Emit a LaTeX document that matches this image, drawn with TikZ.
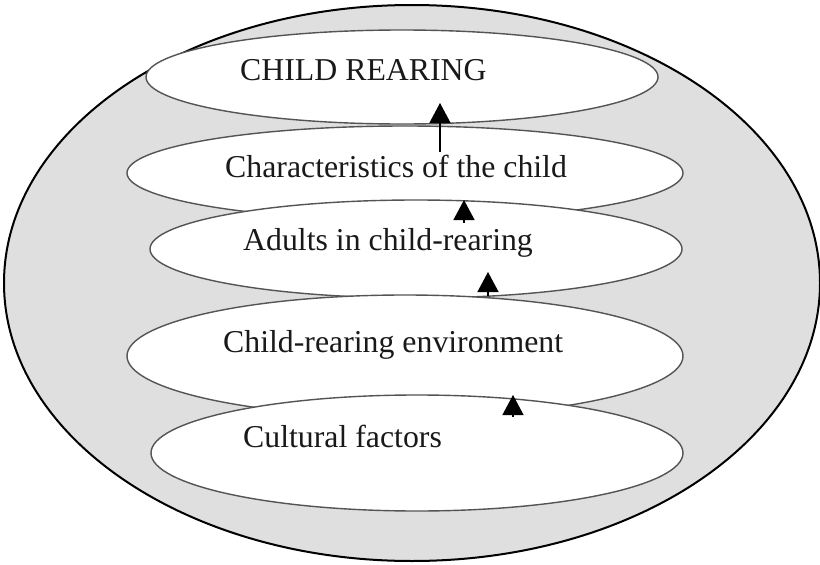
\documentclass[tikz,border=0pt]{standalone}
\usepackage{fontspec}
\setmainfont{Liberation Serif}
\usepackage{tikz}
\usetikzlibrary{shapes.geometric,arrows.meta}

\definecolor{stipple}{gray}{0.875}
\definecolor{rim}{gray}{0.33}

\begin{document}
\begin{tikzpicture}[x=1pt,y=-1pt,
  layer/.style={ellipse,draw=rim,line width=1.4pt,fill=white,inner sep=0pt},
  caption/.style={anchor=base west,inner sep=0pt,text=black!90,font=\fontsize{31.8}{36}\selectfont},
  upward/.style={line width=1.3pt,-{Triangle[width=21pt,length=20pt]}}]
  \useasboundingbox (0,0) rectangle (820,565);
  % outer field
  \node[ellipse,draw=black,line width=2pt,fill=stipple,inner sep=0pt,
    minimum width=816,minimum height=556] (field) at (412,283) {};
  % the layers, each one drawn over the one above it
  \foreach \name/\cx/\cy/\w/\h in {rearing/402/77/512/94, child/405/173/556/94,
      adults/416/249/532/98, environment/405/356/556/122, culture/417/453/532/116}
    \node[layer,minimum width=\w,minimum height=\h] (\name) at (\cx,\cy) {};
  % texts
  \node[caption] (t-rearing) at (240,80) {CHILD REARING};
  \node[caption] (t-child) at (225,177) {Characteristics of the child};
  \node[caption] (t-adults) at (243,250) {Adults in child-rearing};
  \node[caption] (t-environment) at (223,352) {Child-rearing environment};
  \node[caption] (t-culture) at (243,447) {Cultural factors};
  % arrows
  \foreach \i/\x/\from/\to in {1/440/152/103, 2/464/223/200, 3/488/296/272, 4/513/417/395} {
    \coordinate (s\i) at (\x,\from);
    \coordinate (e\i) at (\x,\to);
    \draw[upward] (s\i) -- (e\i);
  }
\end{tikzpicture}
\end{document}
